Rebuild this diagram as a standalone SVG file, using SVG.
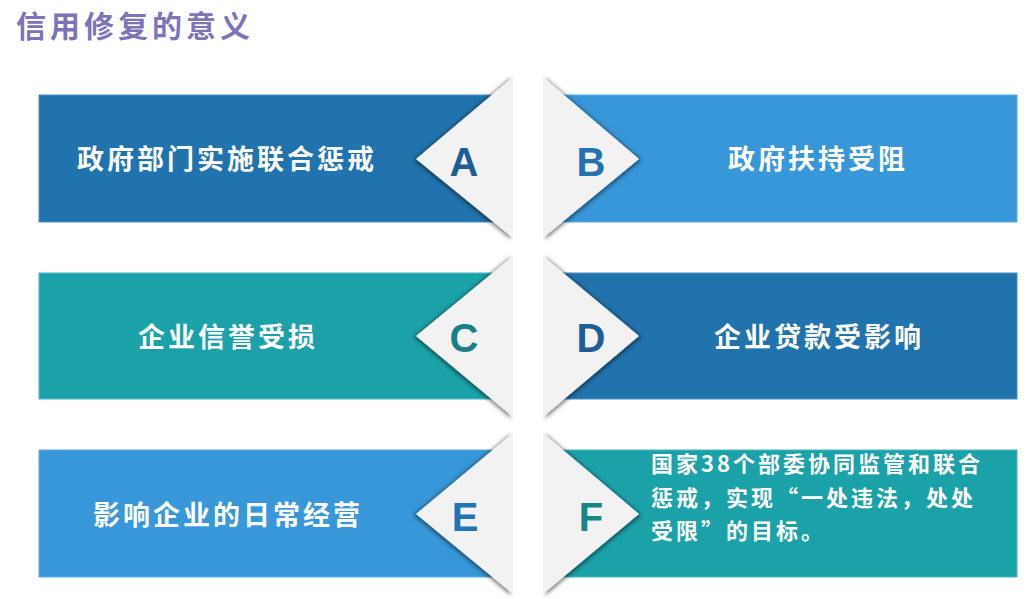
<svg xmlns="http://www.w3.org/2000/svg" width="1027" height="599" viewBox="0 0 1027 599">
  <defs>
    <filter id="shL" filterUnits="userSpaceOnUse" x="395" y="0" width="118" height="599">
      <feDropShadow dx="-2" dy="1" stdDeviation="2" flood-color="#000" flood-opacity="0.55"/>
    </filter>
    <filter id="shR" filterUnits="userSpaceOnUse" x="543" y="0" width="118" height="599">
      <feDropShadow dx="2" dy="1" stdDeviation="2" flood-color="#000" flood-opacity="0.55"/>
    </filter>
    <style>
      .dark { fill: #2173AD; stroke: #4A8FC2; stroke-width: 1; }
      .light { fill: #3797D9; stroke: #5AAAE0; stroke-width: 1; }
      .teal { fill: #1BA2A9; stroke: #4DB8BD; stroke-width: 1; }
      .tri { fill: #F2F2F2; }
      .lbl { font-family: "Noto Sans CJK SC", "Noto Sans", sans-serif; font-weight: 700; font-size: 27px; letter-spacing: 3px; fill: #FFFFFF; text-anchor: middle; }
      .ltr { font-family: "Liberation Sans", Arial, sans-serif; font-weight: 700; font-size: 40px; text-anchor: middle; }
      .title { font-family: "Noto Sans CJK SC", "Noto Sans", sans-serif; font-weight: 700; font-size: 30px; letter-spacing: 4px; fill: #7E72B8; }
      .small { font-family: "Noto Sans CJK SC", "Noto Sans", sans-serif; font-weight: 700; font-size: 22px; letter-spacing: 3px; fill: #FFFFFF; }
    </style>
  </defs>

  <text class="title" x="16" y="37">信用修复的意义</text>

  <g id="nodeA">
    <rect class="dark" x="39" y="95" width="468" height="127"/>
    <polygon class="tri" filter="url(#shL)" points="513,77 416,159 513,238"/>
    <text class="lbl" x="227" y="169">政府部门实施联合惩戒</text>
    <text class="ltr" x="464" y="176" fill="#1D5F94">A</text>
  </g>

  <g id="nodeB">
    <rect class="light" x="549" y="95" width="468" height="127"/>
    <polygon class="tri" filter="url(#shR)" points="543,77 639,159 543,238"/>
    <text class="lbl" x="818" y="169">政府扶持受阻</text>
    <text class="ltr" x="591" y="176" fill="#2472B1">B</text>
  </g>

  <g id="nodeC">
    <rect class="teal" x="39" y="273" width="468" height="126"/>
    <polygon class="tri" filter="url(#shL)" points="513,256 416,336 513,417"/>
    <text class="lbl" x="228" y="347">企业信誉受损</text>
    <text class="ltr" x="464" y="352" fill="#198088">C</text>
  </g>

  <g id="nodeD">
    <rect class="dark" x="549" y="273" width="468" height="126"/>
    <polygon class="tri" filter="url(#shR)" points="543,256 639,336 543,417"/>
    <text class="lbl" x="819" y="347">企业贷款受影响</text>
    <text class="ltr" x="591" y="352" fill="#1D5F94">D</text>
  </g>

  <g id="nodeE">
    <rect class="light" x="39" y="450" width="468" height="127"/>
    <polygon class="tri" filter="url(#shL)" points="513,433 416,514 513,594"/>
    <text class="lbl" x="228" y="525">影响企业的日常经营</text>
    <text class="ltr" x="465" y="531" fill="#2275B5">E</text>
  </g>

  <g id="nodeF">
    <rect class="teal" x="549" y="450" width="468" height="127"/>
    <polygon class="tri" filter="url(#shR)" points="543,433 639,514 543,594"/>
    <text class="small" x="651" y="472">国家38个部委协同监管和联合</text>
    <text class="small" x="651" y="506">惩戒，实现“一处违法，处处</text>
    <text class="small" x="651" y="539">受限”的目标。</text>
    <text class="ltr" x="591" y="531" fill="#198585">F</text>
  </g>
</svg>
